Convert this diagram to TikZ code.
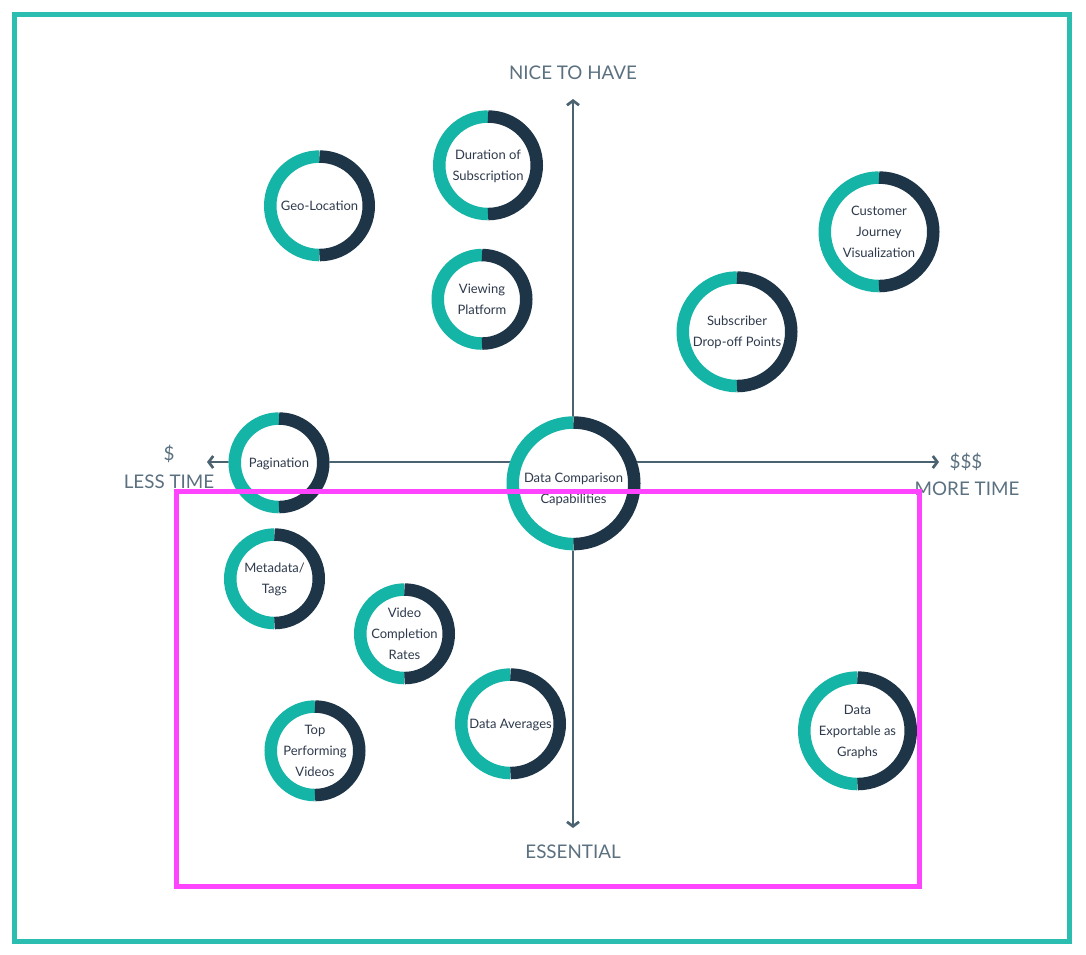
\documentclass[tikz,border=0pt]{standalone}
\usepackage{fontspec}
\setmainfont{Lato}
\usetikzlibrary{arrows.meta}
\definecolor{tealc}{HTML}{14B4A6}
\definecolor{navyc}{HTML}{1E3547}
\definecolor{framec}{HTML}{2BBEB0}
\definecolor{axisc}{HTML}{4B6271}
\definecolor{labelc}{HTML}{5C7180}
\definecolor{textc}{HTML}{2E3A4C}
\definecolor{magc}{HTML}{FF44FF}
\tikzset{
  ringlabel/.style={circle, fill=white, inner sep=0pt, align=center, text=textc,
    font=\fontsize{13}{21}\selectfont},
  tealring/.style={draw=tealc, line width=12.5pt},
  navyring/.style={draw=navyc, line width=12.5pt},
  axisline/.style={draw=axisc, line width=2.7pt, -{Straight Barb[length=4.5pt,width=12pt]}},
  axislabel/.style={text=labelc, font=\fontsize{18.8}{22}\selectfont, inner sep=0pt},
  framebox/.style={draw=framec, line width=5pt},
  highlight/.style={draw=magc, line width=5pt}
}
% #1 text shift, #2 name, #3 x, #4 y, #5 radius, #6 text
\newcommand{\ringnode}[6][0]{%
  \node[ringlabel, minimum size={2*#5pt}] (#2) at (#3,#4) {\raisebox{#1pt}[\height][\depth]{\begin{tabular}{@{}c@{}}#6\end{tabular}}};
  \draw[tealring] ([yshift=-6.25pt]#2.north) arc[start angle=90,end angle=270,radius={#5pt-6.25pt}];
  \draw[navyring] ([yshift=-6.25pt]#2.north) arc[start angle=90,end angle=-90,radius={#5pt-6.25pt}];
}
\begin{document}
\begin{tikzpicture}[x=1pt,y=-1pt]
\useasboundingbox[fill=white] (0,0) rectangle (1086,954);
% axes
\coordinate (ctr) at (573,462);
\coordinate (atop) at (573,99);
\coordinate (abot) at (573,828);
\coordinate (alft) at (207,462);
\coordinate (argt) at (939,462);
\draw[axisline] (ctr) -- (atop);
\draw[axisline] (ctr) -- (abot);
\draw[axisline] (ctr) -- (alft);
\draw[axisline] (ctr) -- (argt);
% axis labels
\node[axislabel] (nice) at (573,73) {NICE TO HAVE};
\node[axislabel] (ess) at (573,852) {ESSENTIAL};
\node[axislabel] (one) at (169,454) {\$};
\node[axislabel] (less) at (169,482) {LESS TIME};
\node[axislabel] (three) at (966,462) {\$\$\$};
\node[axislabel] (more) at (967,489) {MORE TIME};
% rings
\ringnode{dur}{488}{165.5}{55}{Duration of\\Subscription}
\ringnode{geo}{319.5}{206}{55.5}{Geo-Location}
\ringnode{view}{482}{299.5}{50.5}{Viewing\\Platform}
\ringnode{cust}{879}{232}{60.5}{Customer\\Journey\\Visualization}
\ringnode{sub}{737}{332}{60.5}{Subscriber\\Drop-off Points}
\ringnode{pag}{279}{463}{50.5}{Pagination}
\ringnode[-5]{dcc}{573.5}{483.5}{67}{Data Comparison\\Capabilities}
\ringnode{meta}{274.5}{579}{50.5}{Metadata/\\Tags}
\ringnode{vcr}{404.5}{634}{50.5}{Video\\Completion\\Rates}
\ringnode{topv}{315}{751}{50.5}{Top\\Performing\\Videos}
\ringnode{avg}{510.5}{724}{55.5}{Data Averages}
\ringnode{exp}{857.5}{731}{59.5}{Data\\Exportable as\\Graphs}
% highlight and frame
\draw[highlight] (176.5,491.5) rectangle (919,886);
\draw[framebox] (14.5,14.5) rectangle (1069,941.5);
\end{tikzpicture}
\end{document}
